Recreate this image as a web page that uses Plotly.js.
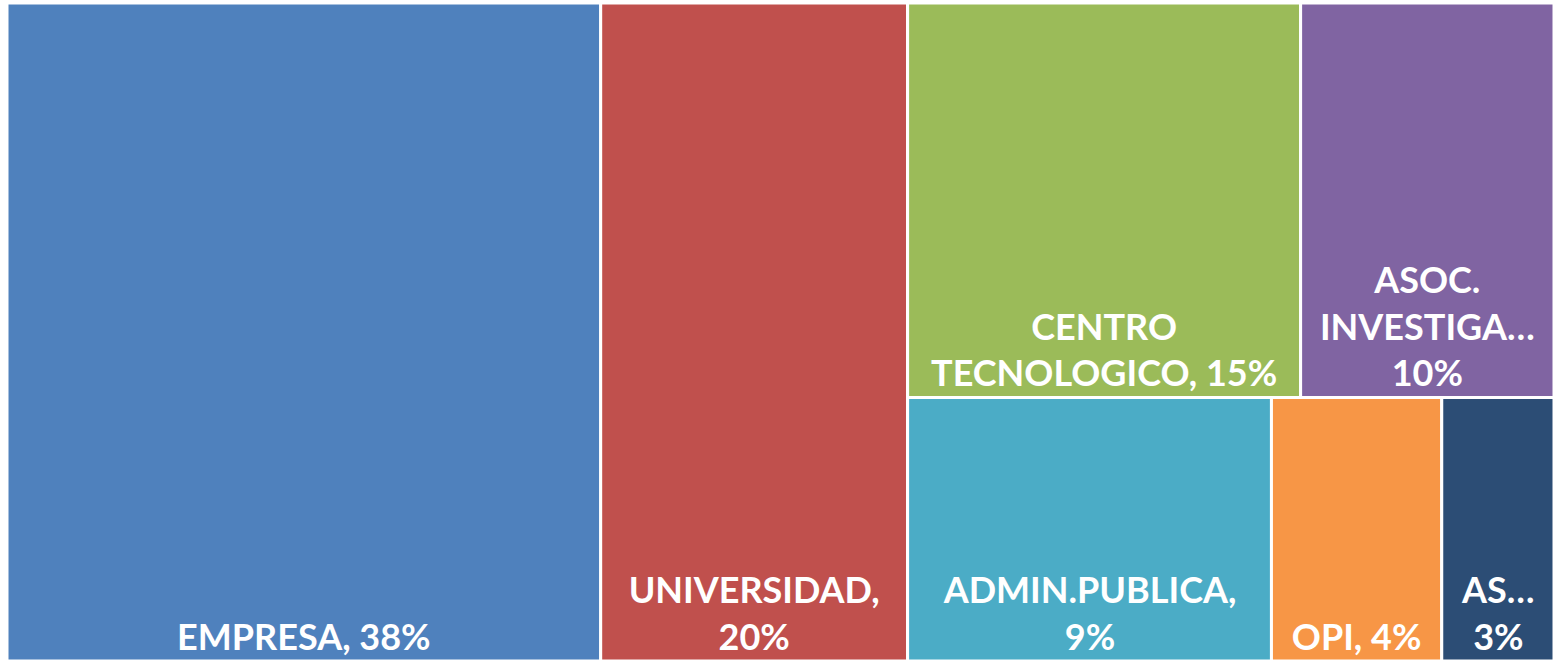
<!DOCTYPE html>
<html>
<head>
<meta charset="utf-8">
<script src="https://cdn.plot.ly/plotly-3.0.1.min.js"></script>
<style>html,body{margin:0;padding:0;background:#fff;}#chart{width:1554px;height:661px;}</style>
</head>
<body>
<div id="chart"></div>
<script>
// Leaf categories and their shares (%), estimated from tile areas (labels show rounded values)
const categories = ["EMPRESA", "UNIVERSIDAD", "CENTRO TECNOLOGICO", "ASOC. INVESTIGACION", "ADMIN.PUBLICA", "OPI", "ASOCIACION"];
const shares = [38.3, 19.8, 15.2, 9.8, 9.4, 4.4, 2.9];
const displayLabels = ["EMPRESA, 38%", "UNIVERSIDAD,<br>20%", "CENTRO<br>TECNOLOGICO, 15%", "ASOC.<br>INVESTIGA…<br>10%", "ADMIN.PUBLICA,<br>9%", "OPI, 4%", "AS…<br>3%"];
const colors = ["#4F81BD", "#C0504D", "#9BBB59", "#8064A2", "#4BACC6", "#F79646", "#2C4D75"];
// Grouping used by the Excel-style layout
const groupOf = ["root", "root", "top", "top", "bottom", "bottom", "bottom"];

// build hierarchy in drawing order: root -> [EMPRESA, UNIVERSIDAD, rest]; rest -> [top, bottom]
const sum = (g) => shares.reduce((a, v, i) => a + (groupOf[i] === g ? v : 0), 0);
const ids = [], parents = [], values = [], texts = [], nodeColors = [];
function addNode(id, parent, value, text, color) {
  ids.push(id); parents.push(parent); values.push(value); texts.push(text); nodeColors.push(color);
}
function addLeaves(g) {
  categories.forEach((c, i) => { if (groupOf[i] === g) addNode(c, g === "root" ? "root" : g, shares[i], displayLabels[i], colors[i]); });
}
const topSum = sum("top"), botSum = sum("bottom");
addNode("root", "", shares.reduce((a, b) => a + b, 0), "", "#ffffff");
addLeaves("root");
addNode("rest", "root", topSum + botSum, "", "#ffffff");
addNode("top", "rest", topSum, "", "#ffffff");
addLeaves("top");
addNode("bottom", "rest", botSum, "", "#ffffff");
addLeaves("bottom");

Plotly.newPlot("chart", [{
  type: "treemap",
  ids: ids,
  labels: ids,
  parents: parents,
  values: values,
  text: texts,
  textinfo: "text",
  branchvalues: "total",
  sort: false,
  textposition: "bottom center",
  textfont: {family: "Lato, 'Open Sans', sans-serif", size: 36, color: "#ffffff", weight: "bold"},
  marker: {colors: nodeColors, line: {color: "#ffffff", width: 3}, pad: {t: 0, l: 0, r: 0, b: 0}},
  tiling: {packing: "slice-dice", pad: 0},
  pathbar: {visible: false},
  hoverinfo: "skip"
}], {
  margin: {l: 7, r: 0, t: 3, b: 0},
  paper_bgcolor: "#ffffff",
  showlegend: false
}, {displayModeBar: false, staticPlot: true});
</script>
</body>
</html>
